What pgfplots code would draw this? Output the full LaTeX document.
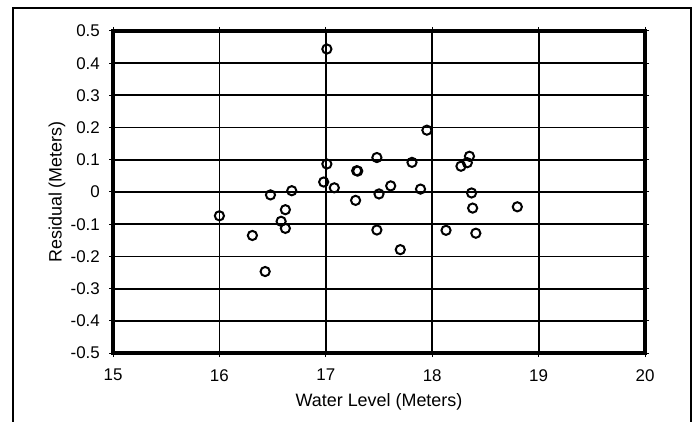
\documentclass[border=0pt]{standalone}
\usepackage{fontspec}
\setmainfont{Liberation Sans}
\usepackage{pgfplots}
\pgfplotsset{compat=1.18}
\begin{document}
\begin{tikzpicture}[x=1bp,y=1bp]
\path[use as bounding box] (0,0) rectangle (694,421);
\draw[line width=1.6bp] (13,-5) -- (13,413) -- (691,413) -- (691,-5);
\begin{axis}[
  at={(113bp,68bp)}, anchor=south west,
  width=532bp, height=322bp, scale only axis=true,
  xmin=15, xmax=20, ymin=-0.5, ymax=0.5,
  xtick={15,16,...,20},
  ytick={-0.5,-0.4,...,0.5},
  /pgf/number format/assume math mode=true,
  /pgf/number format/fixed,
  /pgf/number format/precision=1,
  yticklabel={\pgfmathprintnumber[fixed,precision=1]{\tick}},
  grid=major,
  major grid style={black, line width=1.8bp},
  axis line style={black, line width=4bp},
  tick style={black, line width=1bp},
  tick align=outside,
  major tick length=4bp,
  ticklabel style={font=\fontsize{17}{20}\selectfont},
  yticklabel style={anchor=east, inner sep=0pt, xshift=-9bp},
  xticklabel style={anchor=north, inner sep=0pt, yshift=-12bp},
  xlabel={Water Level (Meters)},
  ylabel={Residual (Meters)},
  label style={font=\fontsize{18}{21}\selectfont},
  xlabel style={at={(axis description cs:0.5,0)}, anchor=center, yshift=-49bp},
  ylabel style={at={(axis description cs:0,0.5)}, anchor=center, yshift=56bp},
  clip=false,
]
\addplot[only marks, mark=o, mark size=4.6bp, mark options={line width=2bp, black}] coordinates {
(16.00,-0.074)
(16.31,-0.135)
(16.43,-0.247)
(16.48,-0.009)
(16.58,-0.091)
(16.62,-0.055)
(16.62,-0.113)
(16.68,0.004)
(16.98,0.031)
(17.01,0.444)
(17.01,0.087)
(17.08,0.013)
(17.28,-0.026)
(17.29,0.066)
(17.30,0.065)
(17.48,-0.118)
(17.48,0.107)
(17.50,-0.006)
(17.61,0.019)
(17.70,-0.179)
(17.81,0.092)
(17.89,0.009)
(17.95,0.192)
(18.13,-0.119)
(18.27,0.080)
(18.33,0.091)
(18.35,0.111)
(18.37,-0.003)
(18.38,-0.050)
(18.41,-0.128)
(18.80,-0.046)
};
\end{axis}
\end{tikzpicture}
\end{document}
